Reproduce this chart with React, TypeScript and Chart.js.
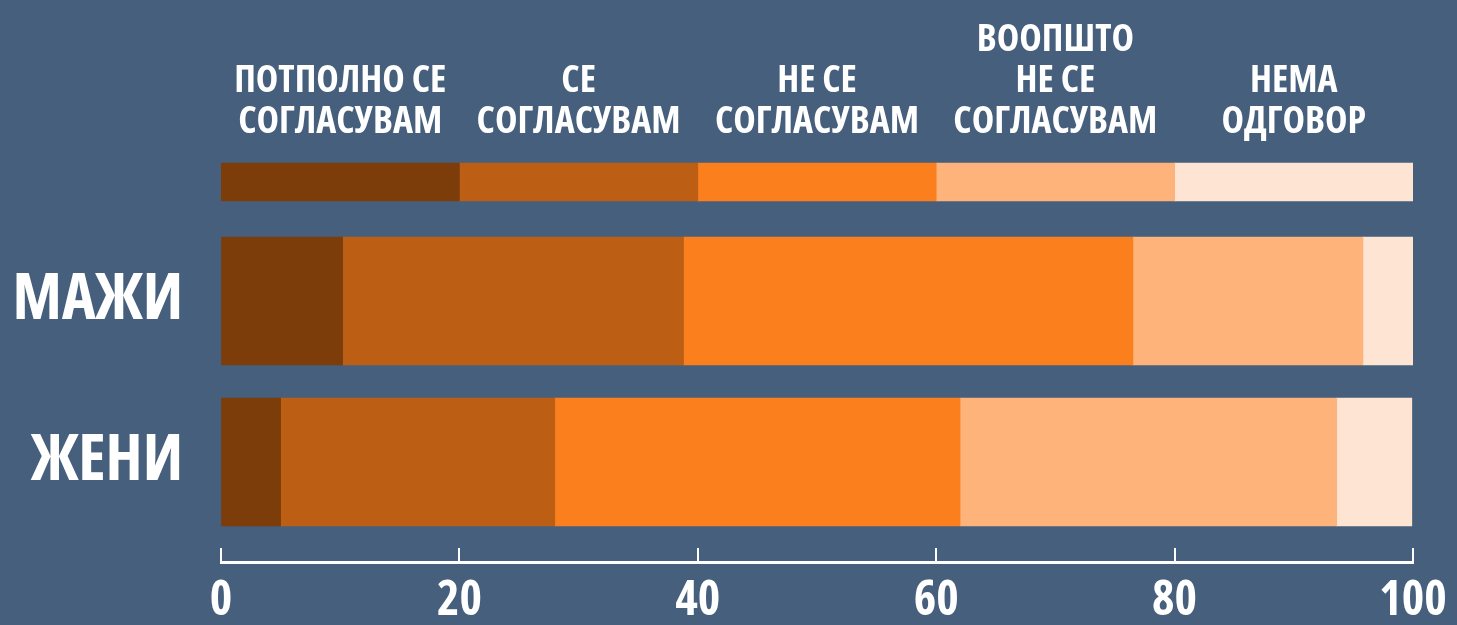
import React, { useEffect, useRef } from 'react';
import { Chart, registerables } from 'chart.js';

Chart.register(...registerables);

// ---- data ----
const groups = ['МАЖИ', 'ЖЕНИ'];
const responseLabels: string[][] = [
  ['ПОТПОЛНО СЕ', 'СОГЛАСУВАМ'],
  ['СЕ', 'СОГЛАСУВАМ'],
  ['НЕ СЕ', 'СОГЛАСУВАМ'],
  ['ВООПШТО', 'НЕ СЕ', 'СОГЛАСУВАМ'],
  ['НЕМА', 'ОДГОВОР'],
];
const legendShares = [20, 20, 20, 20, 20];
const menValues = [10.2, 28.6, 37.7, 19.3, 4.2];
const womenValues = [5.0, 23.0, 34.0, 31.6, 6.3];
const xTickValues = [0, 20, 40, 60, 80, 100];

// ---- style ----
const BG = '#455f7c';
const COLORS = ['#7c3d0b', '#bc5f15', '#fc7f1d', '#fdb379', '#fee4d2'];
const FONT = '"Open Sans", "Roboto", sans-serif';
const W = 1457;
const H = 625;

function legendCenters(): number[] {
  const out: number[] = [];
  let acc = 0;
  for (const v of legendShares) {
    out.push(acc + v / 2);
    acc += v;
  }
  return out;
}

// make every font set on this context render condensed (narrow) glyphs
function condense(ctx: CanvasRenderingContext2D) {
  const desc = Object.getOwnPropertyDescriptor(CanvasRenderingContext2D.prototype, 'font');
  if (!desc || !desc.set || !desc.get) return;
  Object.defineProperty(ctx, 'font', {
    configurable: true,
    get() {
      return desc.get!.call(this);
    },
    set(v: string) {
      desc.set!.call(this, v);
      try {
        (this as any).fontStretch = 'condensed';
      } catch (e) {
        /* ignore */
      }
    },
  });
}

export default function App() {
  const ref = useRef<HTMLCanvasElement | null>(null);

  useEffect(() => {
    const canvas = ref.current;
    if (!canvas) return;
    const ctx = canvas.getContext('2d')!;
    condense(ctx);
    const centers = legendCenters();

    const legendSets = legendShares.map((v, i) => ({
      label: responseLabels[i].join(' '),
      data: [v],
      backgroundColor: COLORS[i],
      borderWidth: 0,
      grouped: false,
      barPercentage: 1,
      categoryPercentage: 1,
      maxBarThickness: 38,
      xAxisID: 'xTop',
      yAxisID: 'yLegend',
    }));
    const mainSets = responseLabels.map((lbl, i) => ({
      label: lbl.join(' '),
      data: [menValues[i], womenValues[i]],
      backgroundColor: COLORS[i],
      borderWidth: 0,
      grouped: false,
      barPercentage: 1,
      categoryPercentage: 1,
      maxBarThickness: 128,
      xAxisID: 'x',
      yAxisID: 'y',
    }));

    const chart = new Chart(ctx, {
      type: 'bar',
      data: {
        labels: groups,
        datasets: [...legendSets, ...mainSets] as any,
      },
      options: {
        indexAxis: 'y',
        responsive: false,
        animation: false,
        layout: { padding: { left: 0, right: 44, top: 17.9, bottom: -15.5 } },
        plugins: { legend: { display: false }, tooltip: { enabled: false } },
        scales: {
          xTop: {
            type: 'linear',
            position: 'top',
            stacked: true,
            min: 0,
            max: 100,
            grid: { display: false, drawTicks: false },
            border: { display: false },
            afterBuildTicks: (scale: any) => {
              scale.ticks = centers.map((c) => ({ value: c }));
            },
            ticks: {
              autoSkip: false,
              maxRotation: 0,
              padding: 1.3,
              color: '#ffffff',
              font: { family: FONT, size: 38, weight: 'bold', lineHeight: 41 / 38 },
              callback: (_v: any, idx: number) => responseLabels[idx],
            },
          },
          x: {
            type: 'linear',
            position: 'bottom',
            weight: 0,
            stacked: true,
            min: 0,
            max: 100,
            grid: { display: true, drawOnChartArea: false, drawTicks: true, tickLength: 5, color: 'rgba(0,0,0,0)' },
            border: { display: false },
            ticks: { display: false },
          },
          xTicks: {
            type: 'linear',
            position: 'bottom',
            weight: 1,
            min: 0,
            max: 100,
            afterBuildTicks: (scale: any) => {
              scale.ticks = xTickValues.map((v) => ({ value: v }));
            },
            grid: { display: true, drawOnChartArea: false, drawTicks: true, tickLength: 15, color: '#ffffff', lineWidth: 2 },
            border: { display: false },
            ticks: { display: false },
          },
          xLabels: {
            type: 'linear',
            position: 'bottom',
            weight: 2,
            min: 0,
            max: 100,
            afterBuildTicks: (scale: any) => {
              scale.ticks = xTickValues.map((v) => ({ value: v }));
            },
            afterFit: (scale: any) => {
              scale.paddingRight = 0;
              scale.paddingLeft = 0;
            },
            grid: { display: false, drawTicks: false },
            border: { display: true, color: '#ffffff', width: 3 },
            ticks: {
              autoSkip: false,
              maxRotation: 0,
              padding: 0,
              color: '#ffffff',
              font: { family: FONT, size: 48, weight: 'bold', lineHeight: 78 / 48 },
              callback: (v: any) => String(v),
            },
          },
          yLegend: {
            type: 'category',
            labels: [''],
            position: 'left',
            stack: 'rows',
            stackWeight: 77,
            weight: 1,
            offset: true,
            stacked: true,
            grid: { display: false, drawTicks: false },
            border: { display: false },
            ticks: { display: false },
            afterFit: (scale: any) => {
              scale.width = 221;
            },
          },
          y: {
            type: 'category',
            labels: groups,
            position: 'left',
            stack: 'rows',
            stackWeight: 322,
            weight: 0,
            offset: true,
            stacked: true,
            grid: { display: false, drawTicks: false },
            border: { display: false },
            afterFit: (scale: any) => {
              scale.width = 221;
            },
            ticks: {
              padding: 38,
              color: '#ffffff',
              font: { family: FONT, size: 64, weight: 'bold' },
            },
          },
        },
      } as any,
    });

    return () => {
      chart.destroy();
    };
  }, []);

  return (
    <div
      style={{
        position: 'absolute',
        left: 0,
        top: 0,
        width: W,
        height: H,
        background: BG,
        overflow: 'hidden',
      }}
    >
      <canvas
        ref={ref}
        width={W}
        height={H}
        style={{ position: 'absolute', left: 0, top: 0, width: W, height: H }}
      />
    </div>
  );
}
